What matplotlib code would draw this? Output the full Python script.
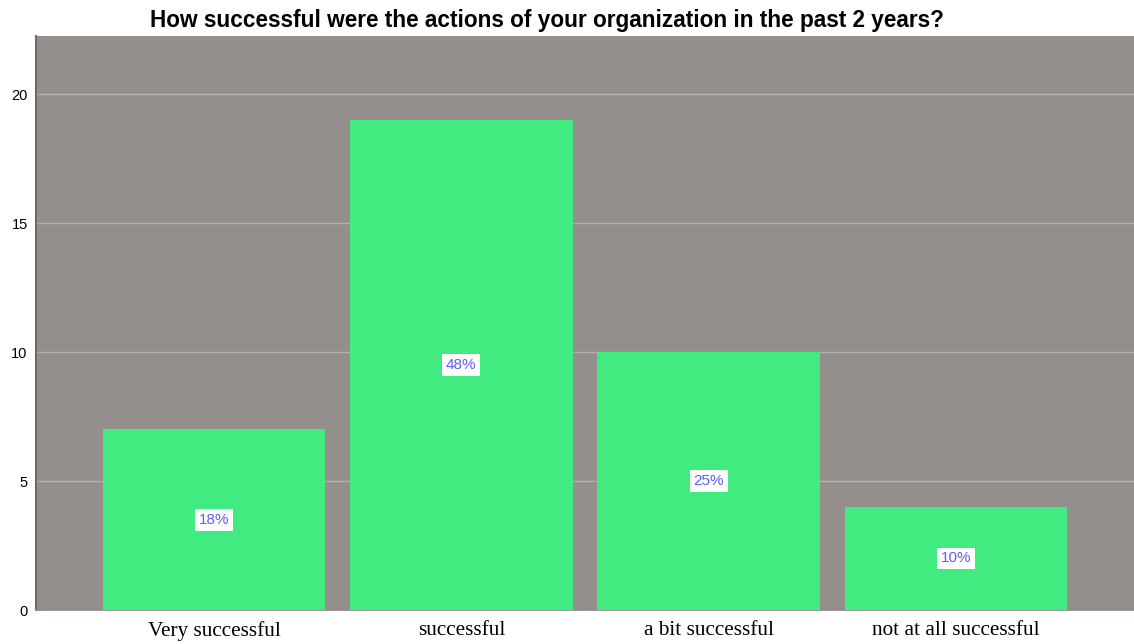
import matplotlib
matplotlib.use("Agg")
import matplotlib.pyplot as plt

categories = ["Very successful", "successful", "a bit successful", "not at all successful"]
counts = [7, 19, 10, 4]
percent_labels = ["18%", "48%", "25%", "10%"]
y_ticks = [0, 5, 10, 15, 20]

W, H = 1134, 644
fig = plt.figure(figsize=(W / 100, H / 100), dpi=100)
ax = fig.add_axes([36 / W, 1 - 610 / H, (W - 36) / W, (610 - 36) / H])

ax.set_facecolor("#948f8d")
x = list(range(len(categories)))
ax.bar(x, counts, width=0.9, color="#41eb7f", zorder=3)

for xi, c, lab in zip(x, counts, percent_labels):
    ax.text(xi, c / 2, lab, ha="center", va="center", color="#5b5bff",
            fontsize=11, family="Liberation Sans", zorder=4,
            bbox=dict(boxstyle="square,pad=0.25", fc="white", ec="none"))

ax.set_xlim(-0.72, len(categories) - 1 + 0.72)
ax.set_ylim(0, 22.25)
ax.set_yticks(y_ticks)
ax.set_yticklabels([str(t) for t in y_ticks], family="Liberation Sans", fontsize=10.5)
ax.yaxis.grid(True, color="#b3b0ae", linewidth=1, zorder=1)
ax.set_axisbelow(True)
ax.set_xticks(x)
ax.set_xticklabels(categories, family="Liberation Serif", fontsize=15.3)
ax.tick_params(axis="both", length=0)
ax.tick_params(axis="y", pad=6)
ax.tick_params(axis="x", pad=8)

for side in ["top", "right"]:
    ax.spines[side].set_visible(False)
ax.spines["left"].set_color("#6e6b69")
ax.spines["left"].set_linewidth(1.5)
ax.spines["bottom"].set_color("#8a8785")
ax.spines["bottom"].set_linewidth(1.2)

fig.text(547 / W, 1 - 20 / H, "How successful were the actions of your organization in the past 2 years?",
         ha="center", va="center", fontsize=16.3, fontweight="bold", family="Liberation Sans")

fig.savefig("out.png", dpi=100, facecolor="white")
